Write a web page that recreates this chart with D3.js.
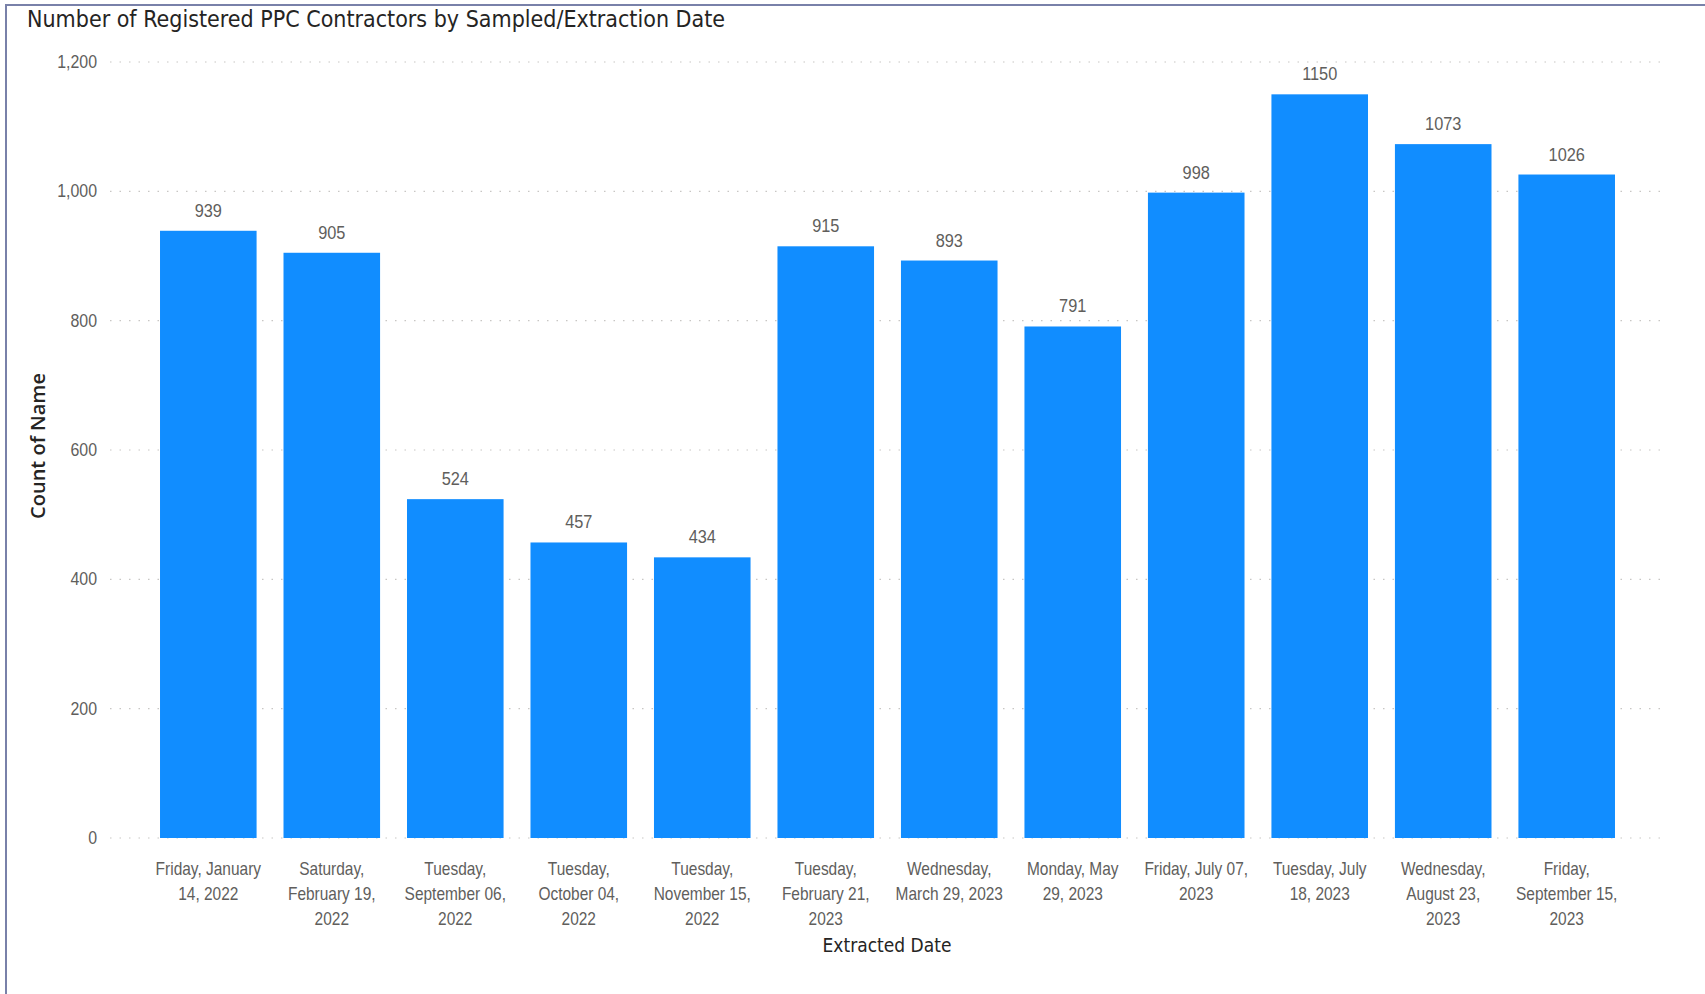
<!DOCTYPE html>
<html><head><meta charset="utf-8">
<script src="https://cdn.jsdelivr.net/npm/d3@7"></script>
<style>
html,body{margin:0;padding:0;background:#fff;}
svg{display:block;}
</style></head>
<body>
<script>
const categories = [
  "Friday, January\n14, 2022",
  "Saturday,\nFebruary 19,\n2022",
  "Tuesday,\nSeptember 06,\n2022",
  "Tuesday,\nOctober 04,\n2022",
  "Tuesday,\nNovember 15,\n2022",
  "Tuesday,\nFebruary 21,\n2023",
  "Wednesday,\nMarch 29, 2023",
  "Monday, May\n29, 2023",
  "Friday, July 07,\n2023",
  "Tuesday, July\n18, 2023",
  "Wednesday,\nAugust 23,\n2023",
  "Friday,\nSeptember 15,\n2023"
];
const counts = [939, 905, 524, 457, 434, 915, 893, 791, 998, 1150, 1073, 1026];
const yTicks = [0, 200, 400, 600, 800, 1000, 1200];
const title = "Number of Registered PPC Contractors by Sampled/Extraction Date";
const xTitle = "Extracted Date";
const yTitle = "Count of Name";

const W = 1705, H = 994;
const cond = "'DejaVu Sans Condensed','DejaVu Sans',sans-serif";
const lib = "'Liberation Sans',Arial,sans-serif";
const svg = d3.select("body").append("svg").attr("width", W).attr("height", H);

// frame
svg.append("line").attr("x1",5).attr("x2",W).attr("y1",5).attr("y2",5)
  .attr("stroke","#7981a9").attr("stroke-width",2);
svg.append("line").attr("x1",6).attr("x2",6).attr("y1",5).attr("y2",H)
  .attr("stroke","#7981a9").attr("stroke-width",2);

const x = d3.scaleBand().domain(categories).range([110,1665]).paddingInner(0.218).paddingOuter(0.405);
const y = d3.scaleLinear().domain([0,1200]).range([838,62]);

// gridlines
svg.append("g").selectAll("line").data(yTicks).join("line")
  .attr("x1",110).attr("x2",1665)
  .attr("y1",d=>y(d)).attr("y2",d=>y(d))
  .attr("stroke","#c8c6c4").attr("stroke-width",1.2).attr("stroke-dasharray","1.5,8");

// y axis
const yAxis = d3.axisLeft(y).tickValues(yTicks).tickSize(0).tickPadding(0).tickFormat(d3.format(","));
const gy = svg.append("g").attr("transform","translate(97,0)").call(yAxis);
gy.select(".domain").remove();
gy.selectAll("text").attr("fill","#605e5c").attr("dy","0.3em")
  .attr("transform","scale(0.86,1)")
  .style("font-family",lib).style("font-size","18.5px");

// bars
svg.append("g").selectAll("rect").data(counts).join("rect")
  .attr("x",(d,i)=>x(categories[i])).attr("width",x.bandwidth())
  .attr("y",d=>y(d)).attr("height",d=>y(0)-y(d))
  .attr("fill","#118dff");

// data labels
svg.append("g").selectAll("text").data(counts).join("text")
  .attr("transform",(d,i)=>`translate(${x(categories[i])+x.bandwidth()/2},${y(d)-14}) scale(0.86,1)`)
  .attr("text-anchor","middle").attr("fill","#605e5c")
  .style("font-family",lib).style("font-size","19px")
  .text(d=>d);

// x axis
const xAxis = d3.axisBottom(x).tickSize(0).tickPadding(0);
const gx = svg.append("g").attr("transform","translate(0,855)").call(xAxis);
gx.select(".domain").remove();
gx.selectAll("text").each(function(d){
  const t = d3.select(this);
  t.text(null).attr("y",0).attr("dy",null);
  d.split("\n").forEach((line,i)=>{
    t.append("tspan").attr("x",0).attr("y",20 + i*25).text(line);
  });
}).attr("fill","#605e5c").attr("transform","scale(0.86,1)")
  .style("font-family",lib).style("font-size","18px");

// titles
svg.append("text").attr("x",27).attr("y",27).attr("fill","#252423")
  .style("font-family",cond).style("font-size","23px").text(title);
svg.append("text").attr("x",887).attr("y",952).attr("text-anchor","middle").attr("fill","#252423")
  .style("font-family",cond).style("font-size","19px").text(xTitle);
svg.append("text").attr("transform","translate(45,446) rotate(-90)").attr("text-anchor","middle")
  .attr("fill","#252423").style("font-family","'Open Sans',sans-serif").style("font-weight","600")
  .style("font-size","20px").text(yTitle);
</script>
</body></html>
